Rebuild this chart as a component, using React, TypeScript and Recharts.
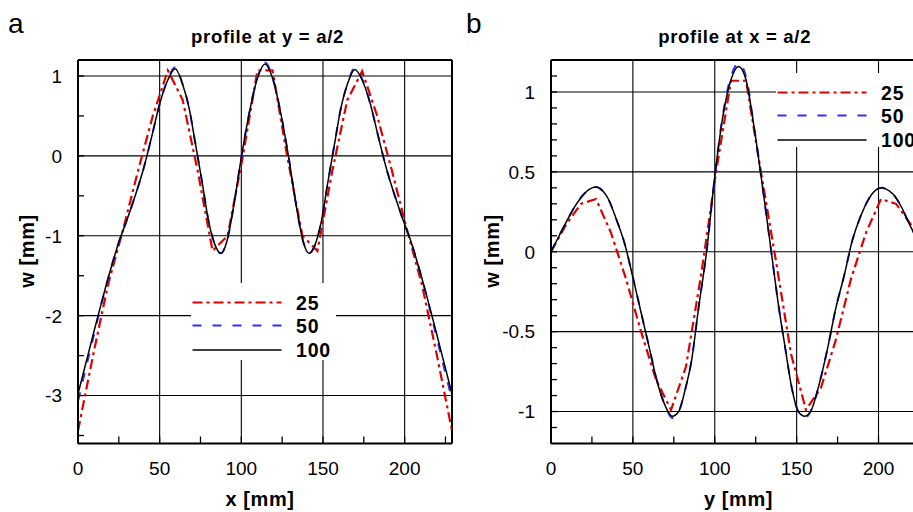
import React from 'react';
import { LineChart, Line, XAxis, YAxis, ReferenceLine, CartesianGrid } from 'recharts';

const FONT = '"Liberation Sans", Arial, Helvetica, sans-serif';

// ---------- Panel a : profile at y = a/2 ----------
const xA = [0, 5, 10, 15, 20, 25, 30, 35, 40, 45, 50, 55, 59.5, 64, 68, 72, 76, 80, 84, 87.5, 91, 95, 100, 105, 110, 114.5,
  119, 124, 129, 134, 138, 141.5, 145, 149, 153, 157, 161, 165, 169.5, 174, 179, 184, 189, 194, 199, 204, 209, 214, 219, 224, 229];
const wA100 = [-2.98, -2.58, -2.18, -1.79, -1.42, -1.08, -0.8, -0.5, -0.17, 0.23, 0.65, 0.95, 1.09, 0.9, 0.6, 0.14, -0.33, -0.82, -1.12, -1.22, -1.08, -0.67, -0.02, 0.55, 0.98, 1.15,
  0.98, 0.55, -0.02, -0.67, -1.08, -1.22, -1.12, -0.82, -0.33, 0.14, 0.6, 0.9, 1.08, 0.95, 0.65, 0.23, -0.17, -0.5, -0.8, -1.08, -1.42, -1.79, -2.18, -2.58, -2.98];
const wA50 = [-3.07, -2.64, -2.22, -1.8, -1.42, -1.08, -0.8, -0.5, -0.17, 0.23, 0.65, 0.96, 1.11, 0.9, 0.6, 0.14, -0.33, -0.82, -1.12, -1.22, -1.08, -0.67, -0.02, 0.55, 0.99, 1.17,
  0.99, 0.55, -0.02, -0.67, -1.08, -1.22, -1.12, -0.82, -0.33, 0.14, 0.6, 0.9, 1.1, 0.96, 0.65, 0.23, -0.17, -0.5, -0.8, -1.08, -1.42, -1.8, -2.22, -2.64, -3.05];
const xA25 = [0, 9.2, 18.3, 27.5, 36.6, 45.8, 55, 64.1, 73.3, 82.4, 91.6, 100.8, 109.9, 119.1, 128.2, 137.4, 146.6, 155.7, 164.9, 174, 183.2, 192.4, 201.5, 210.7, 219.8, 229];
const wA25 = [-3.44, -2.5, -1.62, -0.93, -0.2, 0.5, 1.07, 0.7, -0.19, -1.19, -1.0, -0.02, 1.07, 1.07, -0.02, -1.0, -1.19, -0.19, 0.7, 1.06, 0.5, -0.2, -0.93, -1.62, -2.5, -3.44];

const xTicksA = [0, 25, 50, 75, 100, 125, 150, 175, 200, 225];
const xMajorsA = [0, 50, 100, 150, 200];
const yTicksA = [-3.5, -3, -2.5, -2, -1.5, -1, -0.5, 0, 0.5, 1];
const yMajorsA = [-3, -2, -1, 0, 1];

// ---------- Panel b : profile at x = a/2 ----------
const xB = [0, 5, 10, 15, 20, 25, 27.5, 30, 35, 40, 45, 50, 55, 60, 65, 70, 74, 78, 82, 86, 90, 95, 100, 105, 110, 114.5,
  119, 124, 129, 134, 139, 143, 147, 151, 155, 159, 164, 169, 174, 179, 184, 189, 194, 199, 202, 204, 209, 214, 219, 224, 229];
const wB100 = [0, 0.1, 0.2, 0.29, 0.36, 0.4, 0.405, 0.395, 0.33, 0.2, 0.05, -0.16, -0.38, -0.6, -0.82, -0.97, -1.03, -1.0, -0.86, -0.67, -0.36, 0.0, 0.47, 0.85, 1.08, 1.16,
  1.08, 0.78, 0.42, 0.04, -0.34, -0.6, -0.85, -1.0, -1.03, -0.99, -0.82, -0.6, -0.35, -0.15, 0.07, 0.22, 0.33, 0.39, 0.4, 0.395, 0.36, 0.28, 0.17, 0.07, -0.02];
const wB50 = [0, 0.1, 0.2, 0.29, 0.36, 0.4, 0.405, 0.395, 0.33, 0.2, 0.05, -0.16, -0.38, -0.6, -0.82, -0.97, -1.04, -1.0, -0.86, -0.67, -0.36, 0.0, 0.47, 0.86, 1.1, 1.18,
  1.1, 0.78, 0.42, 0.04, -0.34, -0.6, -0.85, -1.0, -1.04, -0.99, -0.82, -0.6, -0.35, -0.15, 0.07, 0.22, 0.33, 0.39, 0.4, 0.395, 0.36, 0.28, 0.17, 0.07, -0.02];
const xB25 = [0, 9.2, 18.3, 27.5, 36.6, 45.8, 55, 64.1, 73.3, 82.4, 91.6, 100.8, 109.9, 119.1, 128.2, 137.4, 146.6, 155.7, 164.9, 174, 183.2, 192.4, 201.5, 210.7, 219.8, 229];
const wB25 = [0, 0.17, 0.3, 0.33, 0.12, -0.17, -0.5, -0.8, -0.99, -0.72, -0.15, 0.5, 1.07, 1.07, 0.5, -0.06, -0.64, -0.99, -0.85, -0.55, -0.17, 0.12, 0.33, 0.3, 0.17, 0];

const xTicksB = [0, 25, 50, 75, 100, 125, 150, 175, 200, 225];
const xMajorsB = [0, 50, 100, 150, 200];
const yTicksB = [-1.1, -1, -0.9, -0.8, -0.7, -0.6, -0.5, -0.4, -0.3, -0.2, -0.1, 0, 0.1, 0.2, 0.3, 0.4, 0.5, 0.6, 0.7, 0.8, 0.9, 1, 1.1];
const yMajorsB = [-1, -0.5, 0, 0.5, 1];

const seriesNames = ['25', '50', '100'];
const seriesColors = ['#e00000', '#3030ff', '#000000'];
const seriesDash = ['10 4 3 4', '9 11', undefined];
const seriesWidth = [2.2, 2, 1.5];

const rows = (xs: number[], ws: number[]) => xs.map((x, i) => ({ x, w: ws[i] }));

const makeXTick = (majors: number[]) => (p: any) => {
  const { x, y, payload } = p;
  const v = payload.value;
  return (
    <g>
      <line x1={x} x2={x} y1={y} y2={y - 7} stroke="#000" strokeWidth={1.3} />
      {majors.includes(v) && (
        <text x={x} y={y + 31.5} textAnchor="middle" fontSize={19} fontFamily={FONT} fill="#000">{String(v)}</text>
      )}
    </g>
  );
};

const makeYTick = (majors: number[]) => (p: any) => {
  const { x, y, payload } = p;
  const v = payload.value;
  return (
    <g>
      <line x1={x} x2={x + 6} y1={y} y2={y} stroke="#000" strokeWidth={1.3} />
      {majors.includes(v) && (
        <text x={x - 16} y={y} dy="0.36em" textAnchor="end" fontSize={19} fontFamily={FONT} fill="#000">{String(v)}</text>
      )}
    </g>
  );
};

type PanelProps = {
  width: number; yWidth: number;
  xDomain: [number, number]; yDomain: [number, number];
  xTicks: number[]; xMajors: number[]; yTicks: number[]; yMajors: number[];
  data: { x: number; w: number }[][];
};

function Panel({ width, yWidth, xDomain, yDomain, xTicks, xMajors, yTicks, yMajors, data }: PanelProps) {
  return (
    <LineChart width={width} height={512} margin={{ top: 60, right: 8, bottom: 0, left: 0 }}>
      <CartesianGrid
        stroke="#000"
        strokeWidth={1.1}
        horizontalValues={yMajors}
        verticalValues={xMajors}
      />
      <XAxis
        dataKey="x" type="number" domain={xDomain} ticks={xTicks} interval={0}
        allowDataOverflow height={68.5} tickSize={0} tickMargin={0} tickLine={false}
        axisLine={{ stroke: '#000', strokeWidth: 2 }} tick={makeXTick(xMajors)}
      />
      <YAxis
        type="number" domain={yDomain} ticks={yTicks} interval={0}
        allowDataOverflow width={yWidth} tickSize={0} tickMargin={0} tickLine={false}
        axisLine={{ stroke: '#000', strokeWidth: 2 }} tick={makeYTick(yMajors)}
      />
      <ReferenceLine y={yDomain[1]} stroke="#000" strokeWidth={2} />
      <ReferenceLine x={xDomain[1]} stroke="#000" strokeWidth={2} />
      {data.map((d, i) => (
        <Line
          key={seriesNames[i]}
          name={seriesNames[i]}
          data={d}
          dataKey="w"
          type={i === 0 ? 'linear' : 'monotone'}
          stroke={seriesColors[i]}
          strokeWidth={seriesWidth[i]}
          strokeDasharray={seriesDash[i]}
          dot={false}
          activeDot={false}
          isAnimationActive={false}
        />
      ))}
    </LineChart>
  );
}

function LegendBox({ x, y, w, h }: { x: number; y: number; w: number; h: number }) {
  const offs = [19.5, 42.5, 67];
  return (
    <g>
      <rect x={x} y={y} width={w} height={h} fill="#fff" />
      {seriesNames.map((n, i) => (
        <g key={n}>
          <line x1={x + 1.5} x2={x + 90.5} y1={y + offs[i]} y2={y + offs[i]} stroke={seriesColors[i]}
            strokeWidth={seriesWidth[i]} strokeDasharray={seriesDash[i]} />
          <text x={x + 105} y={y + offs[i]} dy="0.36em" fontSize={19.5} fontWeight="bold" letterSpacing={0.8}
            fontFamily={FONT} fill="#000">{n}</text>
        </g>
      ))}
    </g>
  );
}

export default function App() {
  const dataA = [rows(xA25, wA25), rows(xA, wA50), rows(xA, wA100)];
  const dataB = [rows(xB25, wB25), rows(xB, wB50), rows(xB, wB100)];
  const bold = { fontFamily: FONT, fontWeight: 'bold' as const, fill: '#000' };
  return (
    <div style={{ position: 'absolute', left: 0, top: 0, width: 913, height: 512, overflow: 'hidden', background: '#fff' }}>
      <div style={{ position: 'absolute', left: 0, top: 0 }}>
        <Panel width={460} yWidth={78} xDomain={[0, 229]} yDomain={[-3.6, 1.2]}
          xTicks={xTicksA} xMajors={xMajorsA} yTicks={yTicksA} yMajors={yMajorsA} data={dataA} />
      </div>
      <div style={{ position: 'absolute', left: 460, top: 0 }}>
        <Panel width={474} yWidth={91} xDomain={[0, 229]} yDomain={[-1.2, 1.2]}
          xTicks={xTicksB} xMajors={xMajorsB} yTicks={yTicksB} yMajors={yMajorsB} data={dataB} />
      </div>
      <svg width={913} height={512} style={{ position: 'absolute', left: 0, top: 0, pointerEvents: 'none' }}>
        <text x={8} y={33} fontSize={28} fontFamily={FONT} fill="#000">a</text>
        <text x={466} y={33} fontSize={28} fontFamily={FONT} fill="#000">b</text>
        <text x={267.5} y={43} textAnchor="middle" fontSize={18.5} letterSpacing={0.7} {...bold}>profile at y = a/2</text>
        <text x={734.7} y={43} textAnchor="middle" fontSize={18.5} letterSpacing={0.7} {...bold}>profile at x = a/2</text>
        <text x={260} y={506} textAnchor="middle" fontSize={20} letterSpacing={0.6} {...bold}>x [mm]</text>
        <text x={738.5} y={506} textAnchor="middle" fontSize={20} letterSpacing={0.6} {...bold}>y [mm]</text>
        <text transform="translate(34,251) rotate(-90)" textAnchor="middle" fontSize={20} letterSpacing={0.6} {...bold}>w [mm]</text>
        <text transform="translate(499,251) rotate(-90)" textAnchor="middle" fontSize={20} letterSpacing={0.6} {...bold}>w [mm]</text>
        <LegendBox x={191} y={283} w={145} h={77} />
        <LegendBox x={776} y={73} w={140} h={74} />
      </svg>
    </div>
  );
}
